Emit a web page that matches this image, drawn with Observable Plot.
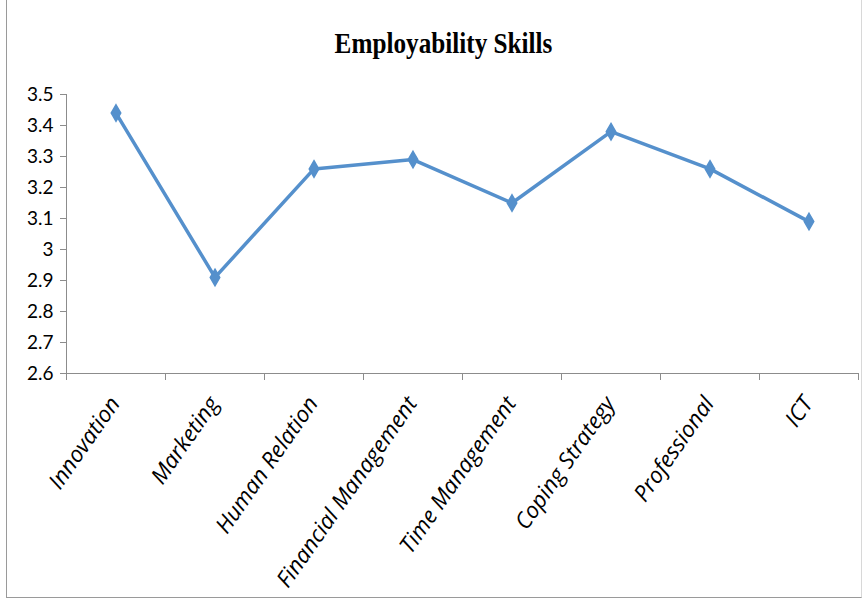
<!DOCTYPE html>
<html>
<head>
<meta charset="utf-8">
<script src="https://cdn.jsdelivr.net/npm/d3@7"></script>
<script src="https://cdn.jsdelivr.net/npm/@observablehq/plot@0.6"></script>
<style>
  body { margin: 0; background: #fff; }
  #wrap { position: relative; width: 867px; height: 605px; overflow: hidden; background: #fff; }
  #frame { position: absolute; left: 6px; top: 0px; width: 856px; height: 598px; border: 1px solid #9a9a9a; border-top: none; border-right: 1px solid #d8d8d8; box-sizing: border-box; }
  #title { position: absolute; left: 10px; width: 867px; top: 26px; text-align: center;
           font-family: "Liberation Serif", "Times New Roman", serif; font-weight: bold; font-size: 30px; color: #000;
           transform: scaleX(0.84); transform-origin: 433.5px 0; }
  #chart { position: absolute; left: 0; top: 0; }
</style>
</head>
<body>
<div id="wrap">
  <div id="frame"></div>
  <div id="chart"></div>
  <div id="title">Employability Skills</div>
</div>
<script>
const categories = ["Innovation", "Marketing", "Human Relation", "Financial Management", "Time Management", "Coping Strategy", "Professional", "ICT"];
const values = [3.44, 2.91, 3.26, 3.29, 3.15, 3.38, 3.26, 3.09];
const yTicks = [2.6, 2.7, 2.8, 2.9, 3.0, 3.1, 3.2, 3.3, 3.4, 3.5];

const data = categories.map((c, i) => ({idx: i, cat: c, value: values[i]}));
const boundaries = d3.range(categories.length + 1).map(i => i - 0.5);

const blue = "#5590cc";
const grey = "#8c8c8c";
const font = "Lato, 'Open Sans', sans-serif";
const labelFont = "'Open Sans', 'Liberation Sans', sans-serif";

const chart = Plot.plot({
  width: 867,
  height: 605,
  marginLeft: 66,
  marginRight: 9,
  marginTop: 94,
  marginBottom: 232,
  style: { fontFamily: font, background: "transparent" },
  x: { type: "linear", domain: [-0.5, categories.length - 0.5], label: null },
  y: { domain: [2.6, 3.5], label: null },
  marks: [
    Plot.ruleY([2.6], { stroke: grey, strokeWidth: 1 }),
    Plot.ruleX([-0.5], { stroke: grey, strokeWidth: 1 }),
    Plot.axisY({ ticks: yTicks, tickSize: 6, tickPadding: 7, stroke: grey, fill: "#000", label: null,
      fontSize: 19, tickFormat: d => String(+d.toFixed(1)) }),
    Plot.axisX({ ticks: boundaries, tickSize: 7, tickFormat: () => "", stroke: grey, label: null }),
    Plot.text(data, { x: "idx", text: "cat", frameAnchor: "bottom", rotate: -55, textAnchor: "end",
      dy: 30, dx: 5, fontSize: 22.5, fontStyle: "italic", fill: "#000", fontFamily: labelFont }),
    Plot.line(data, { x: "idx", y: "value", stroke: blue, strokeWidth: 3.5 }),
    Plot.dot(data, { x: "idx", y: "value", symbol: "diamond", r: 5, fill: blue, stroke: blue })
  ]
});
document.getElementById("chart").appendChild(chart);
</script>
</body>
</html>
